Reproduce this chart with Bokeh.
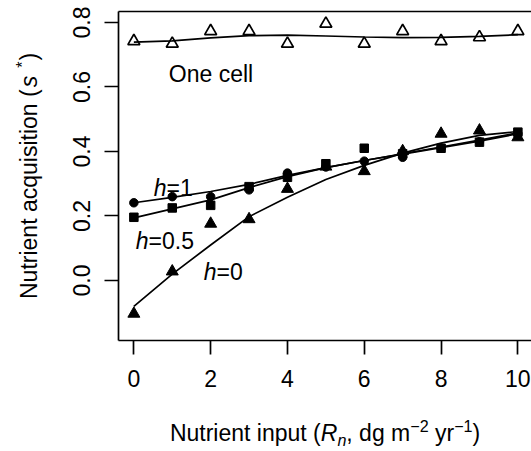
import numpy as np
from bokeh.plotting import figure
from bokeh.models import Range1d, FixedTicker, Label, LinearAxis, Div
from bokeh.layouts import row, column
from bokeh.embed import file_html
from bokeh.resources import INLINE

# ---------------- data ----------------
x_input = [0, 1, 2, 3, 4, 5, 6, 7, 8, 9, 10]
one_cell = [0.742, 0.734, 0.773, 0.773, 0.734, 0.796, 0.734, 0.773, 0.742, 0.754, 0.773]
one_cell_fit = [0.739, 0.743, 0.752, 0.759, 0.761, 0.758, 0.755, 0.753, 0.754, 0.757, 0.762]
h1 = [0.241, 0.260, 0.260, 0.281, 0.333, 0.352, 0.370, 0.382, 0.410, 0.430, 0.455]
h1_fit = [0.241, 0.258, 0.276, 0.298, 0.326, 0.350, 0.372, 0.393, 0.414, 0.435, 0.458]
h05 = [0.196, 0.225, 0.233, 0.291, 0.320, 0.362, 0.410, 0.393, 0.410, 0.429, 0.460]
h05_fit = [0.194, 0.222, 0.250, 0.288, 0.322, 0.350, 0.372, 0.392, 0.412, 0.432, 0.455]
h0 = [-0.103, 0.028, 0.176, 0.190, 0.284, 0.353, 0.339, 0.401, 0.455, 0.465, 0.444]
h0_fit = [-0.080, 0.020, 0.110, 0.198, 0.258, 0.313, 0.357, 0.395, 0.426, 0.450, 0.462]

x_ticks = [0, 2, 4, 6, 8, 10]
y_ticks = [0.0, 0.2, 0.4, 0.6, 0.8]
y_tick_labels = ["0.0", "0.2", "0.4", "0.6", "0.8"]

# ---------------- style ----------------
FONT = "Liberation Sans"
FS = 23
SS = round(0.7 * FS, 1)
LW = 1.7
W, H = 531, 451
YDIV_W = 60           # width of y-title strip
XDIV_H = 51           # height of x-title strip
FIG_W, FIG_H = W - YDIV_W, H - XDIV_H
FRAME_L, FRAME_T, FRAME_B = 118, 11, 340   # in page pixels

p = figure(width=FIG_W, height=FIG_H, x_range=Range1d(-0.4, 10.355),
           y_range=Range1d(-0.186, 0.834),
           output_backend="svg", toolbar_location=None,
           min_border_left=FRAME_L - YDIV_W, min_border_right=0, min_border_top=FRAME_T,
           min_border_bottom=FIG_H - FRAME_B)
p.outline_line_color = None
p.xgrid.visible = False
p.ygrid.visible = False
p.background_fill_color = "white"
p.border_fill_color = "white"

for ax in (p.xaxis[0], p.yaxis[0]):
    ax.axis_line_width = LW
    ax.axis_line_color = "black"
    ax.major_tick_line_width = LW
    ax.major_tick_line_color = "black"
    ax.major_tick_out = 14
    ax.major_tick_in = 0
    ax.minor_tick_line_color = None
    ax.major_label_text_font = FONT
    ax.major_label_text_font_size = f"{FS}px"
    ax.major_label_text_color = "black"

p.xaxis.ticker = FixedTicker(ticks=x_ticks)
p.xaxis.major_label_standoff = 15
p.yaxis.ticker = FixedTicker(ticks=y_ticks)
p.yaxis.major_label_overrides = {t: l for t, l in zip(y_ticks, y_tick_labels)}
p.yaxis.major_label_orientation = "vertical"
p.yaxis.major_label_standoff = 14

top = LinearAxis(ticker=FixedTicker(ticks=[]), axis_line_width=LW, axis_line_color="black",
                 major_tick_line_color=None, minor_tick_line_color=None,
                 major_label_standoff=0)
p.add_layout(top, "above")

# ---------------- lines & points ----------------
for fit in (one_cell_fit, h1_fit, h05_fit, h0_fit):
    p.line(x_input, fit, line_color="black", line_width=LW)

p.scatter(x_input, one_cell, marker="triangle", size=12, fill_color=None,
          line_color="black", line_width=LW)
p.scatter(x_input, h0, marker="triangle", size=12, fill_color="black", line_color="black")
p.scatter(x_input, h05, marker="square", size=8.5, fill_color="black", line_color="black")
p.scatter(x_input, h1, marker="circle", size=8.5, fill_color="black", line_color="black")

# ---------------- text ----------------
WID = {' ': 278, '(': 333, ')': 333, ',': 278, 'N': 722, 'u': 556, 't': 278, 'r': 333,
       'i': 222, 'e': 556, 'n': 556, 'p': 556, 'd': 556, 'g': 556, 'm': 833, 'y': 500,
       'R': 722, 'a': 556, 'c': 500, 'q': 556, 's': 500, 'o': 556, '\u2212': 584,
       '2': 556, '1': 556, '*': 389, 'h': 556, '=': 584, '0': 556, '.': 278, '5': 556,
       'O': 778, 'l': 222}


def tw(s, fs):
    return sum(WID[c] for c in s) * fs / 1000.0


def lab(**kw):
    d = dict(text_font=FONT, text_color="black", text_align="left",
             text_baseline="alphabetic")
    d.update(kw)
    p.add_layout(Label(**d))


# in-plot labels (data anchors = baseline start)
lab(x=0.91, y=0.639, text="One cell", text_font_size=f"{FS}px")
for (tx, ty, rest) in ((0.52, 0.288, "=1"), (0.05, 0.124, "=0.5"), (1.82, 0.025, "=0")):
    lab(x=tx, y=ty, text="h", text_font_style="italic", text_font_size=f"{FS}px")
    lab(x=tx, y=ty, x_offset=tw("h", FS), text=rest, text_font_size=f"{FS}px")

BASE = 19.5  # baseline offset inside a 23px line box (Liberation Sans)
font_css = f"font-family:'{FONT}';font-size:{FS}px;line-height:{FS}px;color:black;white-space:nowrap;"


def small(t, shift, italic=False, ml=0):
    st = "font-style:italic;" if italic else ""
    return (f'<span style="font-size:{SS}px;position:relative;top:{shift}px;'
            f'margin-left:{ml}px;{st}">{t}</span>')


# x-axis title
x_pieces_w = (tw("Nutrient input (", FS) + tw("R", FS) + tw("n", SS) + tw(", dg m", FS)
              + tw("\u22122", SS) + tw(" yr", FS) + tw("\u22121", SS) + tw(")", FS))
x_left = 325 - x_pieces_w / 2
x_html = (f'<div style="position:relative;width:{W}px;height:{XDIV_H}px;overflow:visible;">'
          f'<div style="position:absolute;left:{x_left:.1f}px;top:{441 - FIG_H - BASE:.1f}px;{font_css}">'
          'Nutrient input (<i>R</i>' + small("n", 5, italic=True) + ', dg m'
          + small("\u22122", -9) + ' yr' + small("\u22121", -9) + ')</div></div>')
xdiv = Div(text=x_html, width=W, height=XDIV_H, margin=0)

# y-axis title (rotated, reading upward)
gap1, gap2 = 2, 8
y_len = (tw("Nutrient acquisition (", FS) + gap1 + tw("s", FS) + gap2 + tw("*", SS)
         + 1 + tw(")", FS))
y_start = 175.5 + y_len / 2
y_html = (f'<div style="position:relative;width:{YDIV_W}px;height:{FIG_H}px;overflow:visible;">'
          f'<div style="position:absolute;left:{37 - BASE:.1f}px;top:{y_start:.1f}px;'
          f'transform-origin:0 0;transform:rotate(-90deg);{font_css}">'
          f'Nutrient acquisition (<i style="margin-left:{gap1}px">s</i>'
          + small("*", -9, ml=gap2) + '<span style="margin-left:1px">)</span></div></div>')
ydiv = Div(text=y_html, width=YDIV_W, height=FIG_H, margin=0)

layout = column(row(ydiv, p, spacing=0), xdiv, spacing=0)

open("out.html", "w").write(file_html(layout, INLINE))
